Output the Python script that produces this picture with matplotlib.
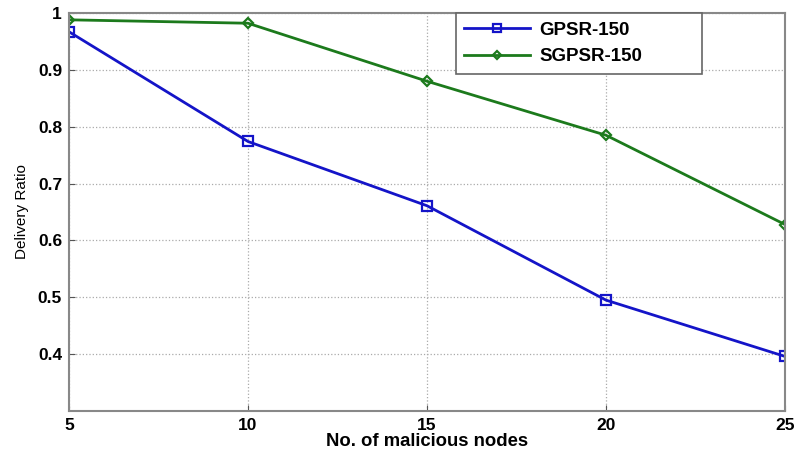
import matplotlib.pyplot as plt

nodes = [5, 10, 15, 20, 25]
gpsr = [0.967, 0.774, 0.661, 0.495, 0.396]
sgpsr = [0.988, 0.982, 0.880, 0.785, 0.628]

plt.rcParams['font.family'] = ['Liberation Sans', 'DejaVu Sans']

fig = plt.figure(figsize=(7.96, 4.5), dpi=100)
ax = fig.add_axes([69 / 796, 1 - 411 / 450, (785 - 69) / 796, (411 - 13) / 450])

ax.plot(nodes, gpsr, color='#1414c8', linewidth=2, marker='s', markersize=6.5,
        markerfacecolor='none', markeredgewidth=1.6, label='GPSR-150')
ax.plot(nodes, sgpsr, color='#1c7a1c', linewidth=2, marker='D', markersize=5,
        markerfacecolor='none', markeredgewidth=1.6, label='SGPSR-150')

ax.set_xlim(5, 25)
ax.set_ylim(0.3, 1.0)
ax.set_xticks(nodes)
ax.set_yticks([0.4, 0.5, 0.6, 0.7, 0.8, 0.9, 1.0])
ax.set_yticklabels(['0.4', '0.5', '0.6', '0.7', '0.8', '0.9', '1'])
ax.tick_params(direction='in', length=4, color='#555555', labelsize=12.5, pad=5)
for lbl in ax.get_xticklabels() + ax.get_yticklabels():
    lbl.set_fontweight('bold')
for s in ax.spines.values():
    s.set_color('#888888')
    s.set_linewidth(1.5)

ax.grid(True, linestyle=':', color='#aaaaaa', linewidth=0.9)

ax.set_xlabel('No. of malicious nodes', fontsize=13.3, fontweight='bold', labelpad=0)
ax.set_ylabel('Delivery Ratio', fontsize=11, labelpad=6)

# legend box spans 456-702 px wide, 13-70 px tall in the reference
leg = ax.legend(loc='upper left', bbox_to_anchor=(0.5405, 0.857, 0.344, 0.143),
                mode='expand', fancybox=False, framealpha=1, edgecolor='#666666',
                prop={'weight': 'bold', 'size': 13.5}, handlelength=3.5,
                handletextpad=0.5, borderpad=0.45, labelspacing=0.5,
                borderaxespad=0, markerscale=0.8)
leg.get_frame().set_linewidth(1.2)

fig.savefig('out.png', dpi=100)
